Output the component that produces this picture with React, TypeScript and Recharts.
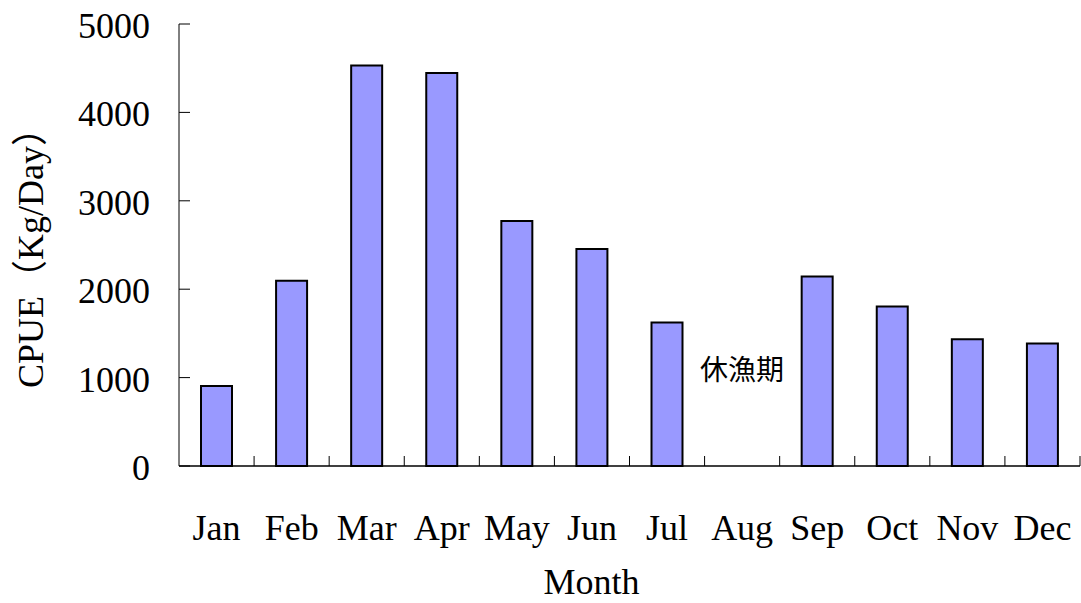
import { BarChart, Bar, XAxis, YAxis, ReferenceDot } from "recharts";

const months = ["Jan", "Feb", "Mar", "Apr", "May", "Jun", "Jul", "Aug", "Sep", "Oct", "Nov", "Dec"];
const cpue = [906, 2096, 4531, 4445, 2772, 2455, 1622, 0, 2145, 1804, 1435, 1385];
const yTicks = [0, 1000, 2000, 3000, 4000, 5000];
const closedSeason = { month: "Aug", value: 1090, text: "休漁期" };

const data = months.map((m, i) => ({ month: m, cpue: cpue[i] }));

const serif = "'Liberation Serif', 'Noto Sans CJK TC', serif";

const YTick = (props: any) => {
  const { x, y, payload } = props;
  return (
    <g>
      <line x1={x} y1={y} x2={x + 11} y2={y} stroke="#000" strokeWidth={1} />
      <text x={x - 29} y={y + 14} textAnchor="end" fontFamily={serif} fontSize={36} fill="#000">
        {payload.value}
      </text>
    </g>
  );
};

// month label at band centre, tick mark on the band's right edge
const MonthTick = (props: any) => {
  const { x, y, payload } = props;
  const half = payload.offset ?? 0;
  return (
    <g>
      <line x1={x + half} y1={y} x2={x + half} y2={y - 10} stroke="#000" strokeWidth={1} />
      <text x={x} y={y + 74} textAnchor="middle" fontFamily={serif} fontSize={36} fill="#000">
        {payload.value}
      </text>
    </g>
  );
};

const YLabel = (props: any) => {
  const { viewBox } = props;
  const cy = viewBox.y + viewBox.height / 2 + 4;
  return (
    <text
      x={43}
      y={cy}
      transform={`rotate(-90, 43, ${cy})`}
      textAnchor="middle"
      fontFamily={serif}
      fontSize={36}
      fill="#000"
    >
      CPUE（Kg/Day）
    </text>
  );
};

export default function App() {
  return (
    <div style={{ position: "absolute", left: 0, top: 0, background: "#fff" }}>
      <BarChart
        width={1081}
        height={603}
        data={data}
        margin={{ top: 24, right: 1, bottom: 0, left: 0 }}
        barCategoryGap={0}
      >
        <XAxis
          dataKey="month"
          height={137}
          axisLine={{ stroke: "#000", strokeWidth: 1.5 }}
          tickLine={false}
          tickSize={0}
          tickMargin={0}
          tick={<MonthTick />}
          interval={0}
          label={{
            value: "Month",
            position: "insideBottom",
            offset: 9,
            dx: -38,
            fontFamily: serif,
            fontSize: 36,
            fill: "#000",
          }}
        />
        <YAxis
          width={179}
          domain={[0, 5000]}
          ticks={yTicks}
          interval={0}
          axisLine={{ stroke: "#000", strokeWidth: 1 }}
          tickLine={false}
          tickSize={0}
          tickMargin={0}
          tick={<YTick />}
          label={<YLabel />}
        />
        <Bar
          dataKey="cpue"
          fill="#9999FF"
          stroke="#000"
          strokeWidth={2}
          barSize={31}
          isAnimationActive={false}
        />
        <ReferenceDot
          x={closedSeason.month}
          y={closedSeason.value}
          r={0}
          fill="none"
          stroke="none"
          label={{
            value: closedSeason.text,
            position: "center",
            fontFamily: "'Noto Sans CJK TC', sans-serif",
            fontSize: 28,
            fill: "#000",
          }}
        />
      </BarChart>
    </div>
  );
}
